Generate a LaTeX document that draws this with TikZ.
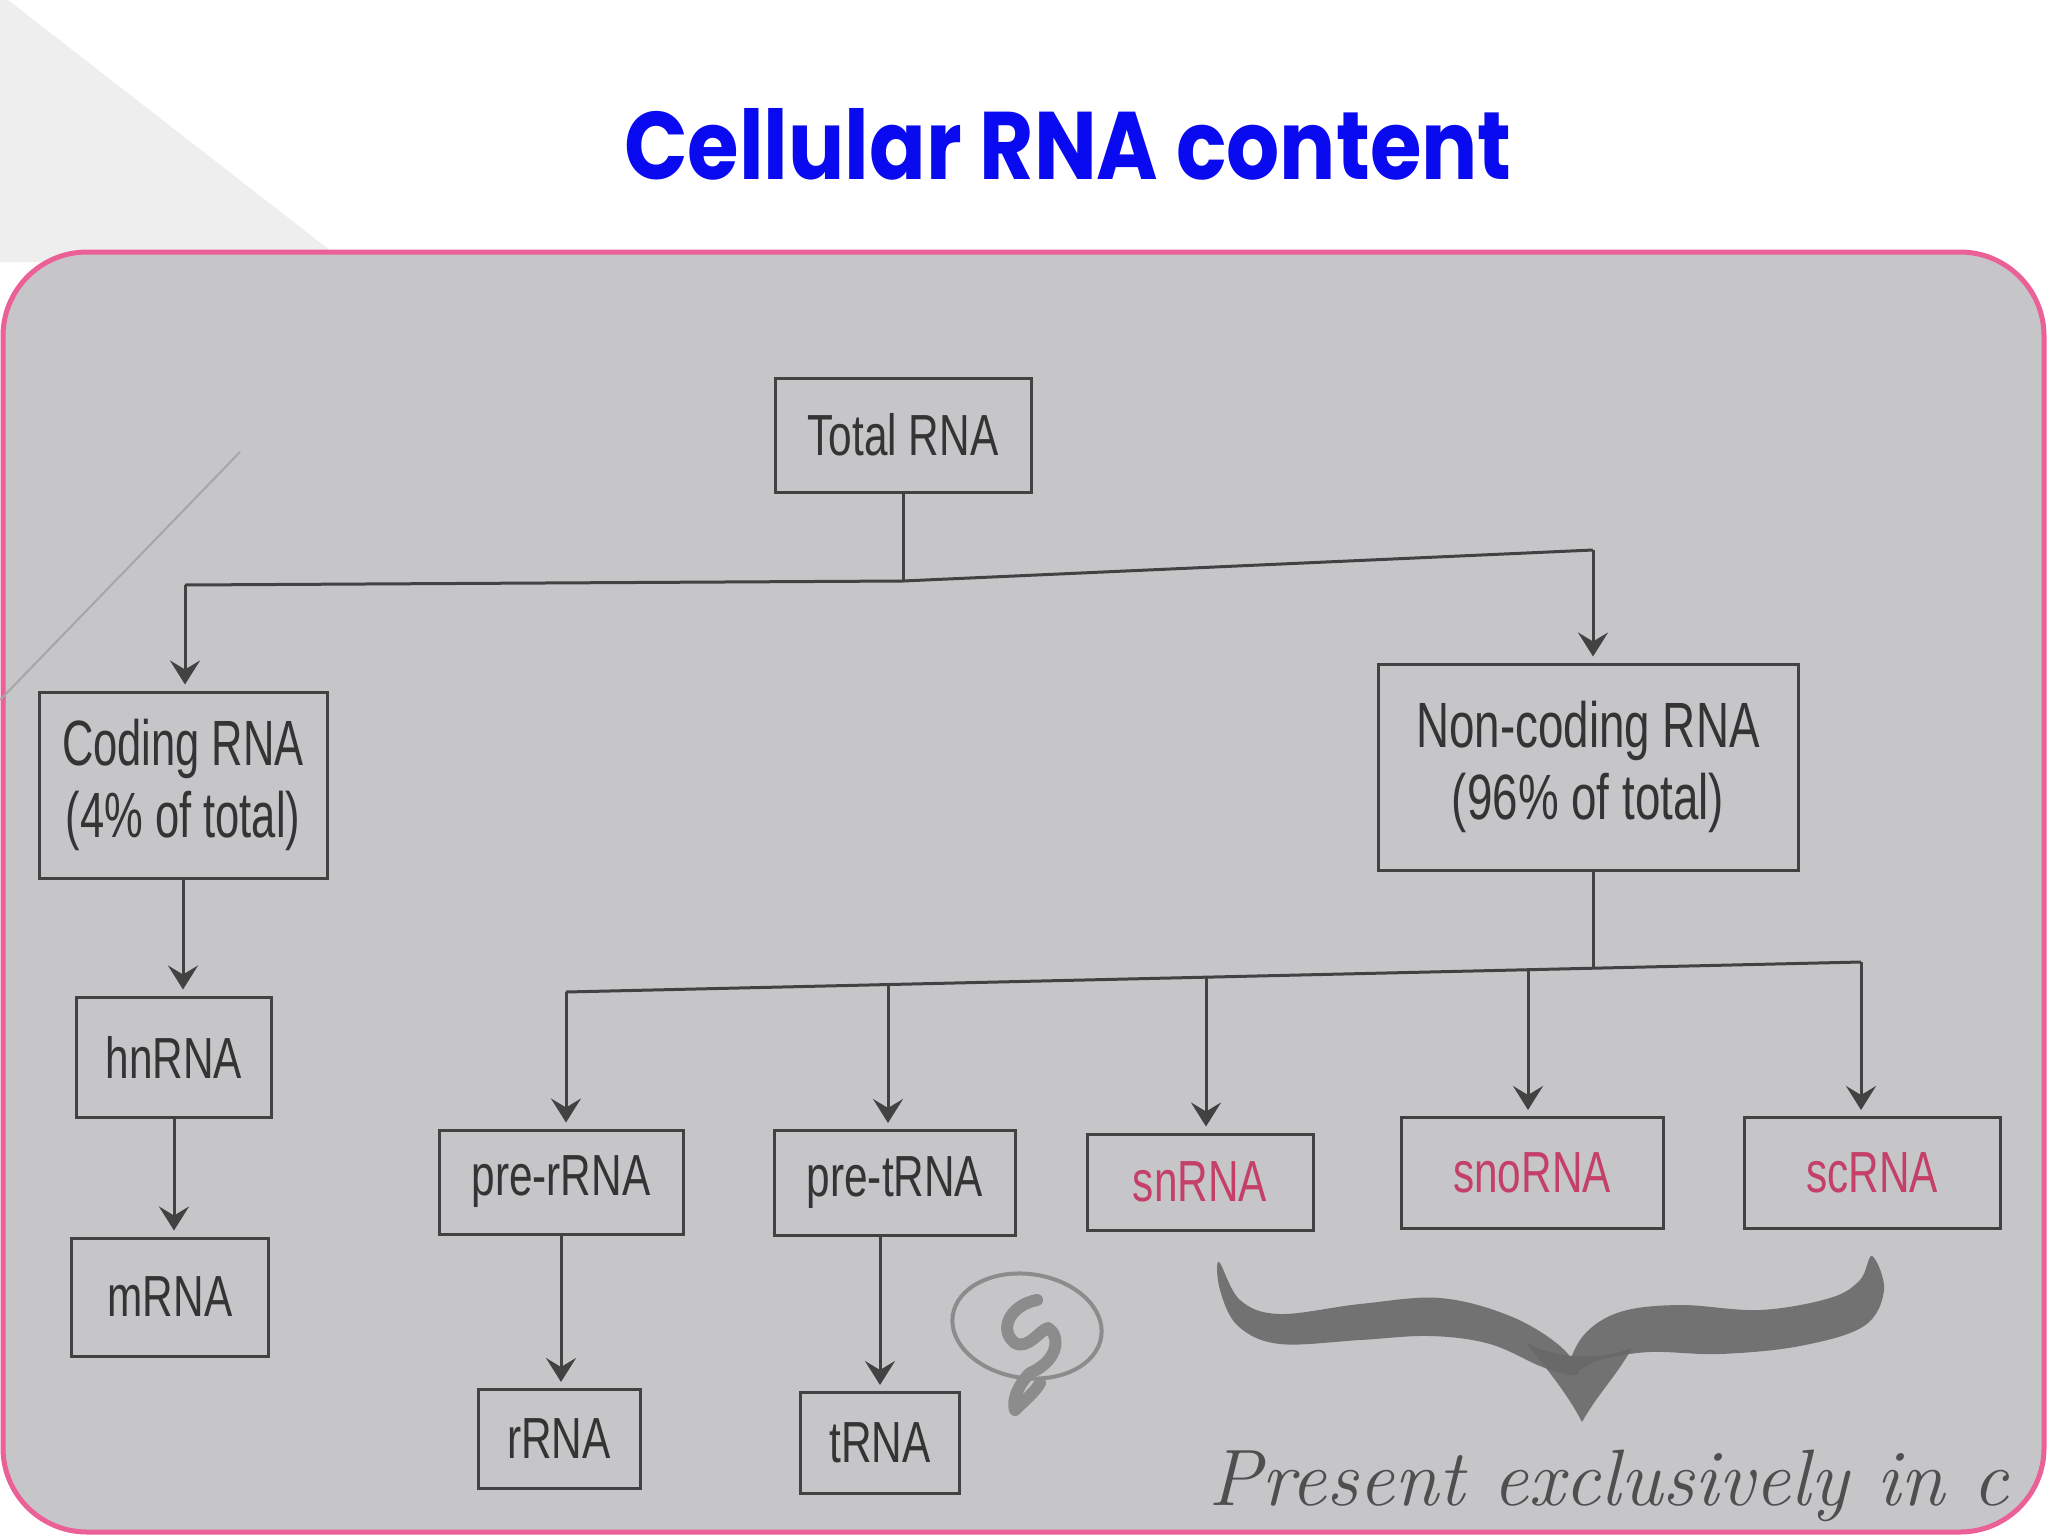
\documentclass[tikz,border=0pt]{standalone}
\usepackage{fontspec}
\usetikzlibrary{arrows.meta}
\newfontfamily\boxfont[FakeStretch=0.73]{Liberation Sans}
\newfontfamily\codingfont[FakeStretch=0.68]{Liberation Sans}
\newfontfamily\ncfont[FakeStretch=0.715]{Liberation Sans}
\newfontfamily\titlefont[FakeStretch=0.87]{Poppins}
\definecolor{titleblue}{RGB}{10,10,240}
\definecolor{paper}{RGB}{198,197,200}
\definecolor{framepink}{RGB}{236,96,152}
\definecolor{slidegray}{RGB}{238,238,238}
\definecolor{boxline}{RGB}{66,66,66}
\definecolor{inkgray}{RGB}{52,52,52}
\definecolor{inkred}{RGB}{196,64,104}
\definecolor{pencil}{RGB}{105,105,105}
\definecolor{doodlegray}{RGB}{140,140,140}
\tikzset{
  rnabox/.style={draw=boxline, line width=1.5pt, inner sep=0pt, align=center,
    text=inkgray, font=\boxfont\fontsize{29}{34}\selectfont},
  codebox/.style={rnabox, font=\codingfont\fontsize{32}{36}\selectfont},
  ncbox/.style={rnabox, font=\ncfont\fontsize{32}{36}\selectfont},
  redbox/.style={rnabox, text=inkred},
  conn/.style={draw=boxline, line width=1.5pt},
  arr/.style={conn, -{Stealth[length=12pt,width=15pt,inset=4.5pt]}, shorten >=3pt},
}
\begin{document}
\begin{tikzpicture}[x=0.5pt,y=-0.5pt]
\useasboundingbox (0,0) rectangle (2048,1536);
\fill[white] (0,0) rectangle (2048,1536);
\fill[slidegray] (0,0) -- (8,0) -- (345,262) -- (0,262) -- cycle;
% title
\node[anchor=base, text=titleblue, inner sep=0pt,
  font=\titlefont\bfseries\fontsize{48}{58}\selectfont] (title) at (1068,179) {Cellular RNA content};
% frame
\draw[framepink, line width=2.5pt, fill=paper, rounded corners=42pt] (3,252) rectangle (2044,1532);
\draw[doodlegray!55!paper, line width=1pt] (0,700) -- (240,452);
% boxes
\node[rnabox, minimum width=128pt, minimum height=57pt] (total) at (903,435) {Total RNA};
\node[codebox, minimum width=144pt, minimum height=93pt] (coding) at (183,785) {Coding RNA\\(4\% of total)};
\node[ncbox, minimum width=210pt, minimum height=103pt] (noncoding) at (1588,767) {Non-coding RNA\\(96\% of total)};
\node[rnabox, minimum width=97.5pt, minimum height=60pt] (hn) at (174,1057) {hnRNA};
\node[rnabox, minimum width=98.5pt, minimum height=59pt] (m) at (170,1297) {mRNA};
\node[rnabox, minimum width=122pt, minimum height=52pt] (prer) at (561,1182) {pre-rRNA};
\node[rnabox, minimum width=120.5pt, minimum height=52.5pt] (pret) at (895,1183) {pre-tRNA};
\node[redbox, minimum width=113pt, minimum height=48pt] (sn) at (1200,1182) {snRNA};
\node[redbox, minimum width=131pt, minimum height=55.5pt] (sno) at (1532,1173) {snoRNA};
\node[redbox, minimum width=128pt, minimum height=55.5pt] (sc) at (1872,1173) {scRNA};
\node[rnabox, minimum width=81pt, minimum height=49.5pt] (r) at (559,1439) {rRNA};
\node[rnabox, minimum width=79.5pt, minimum height=50.5pt] (t) at (880,1443) {tRNA};
% bus 1
\coordinate (b1L) at (185,585);
\coordinate (b1T) at (903,581);
\coordinate (b1R) at (1593,550);
\draw[conn] (total.south) -- (b1T);
\draw[conn] (b1L) -- (b1T) -- (b1R);
\draw[arr] (b1L) -- (b1L |- coding.north);
\draw[arr] (b1R) -- (b1R |- noncoding.north);
\draw[arr] (coding.south) -- (coding.south |- hn.north);
\draw[arr] (hn.south) -- (hn.south |- m.north);
% bus 2
\coordinate (b2J) at (1593,968);
\coordinate (d1) at (566,992);
\coordinate (d2) at (888,984.5);
\coordinate (d3) at (1206,977);
\coordinate (d4) at (1528,970);
\coordinate (d5) at (1861,962);
\draw[conn] (b2J |- noncoding.south) -- (b2J);
\draw[conn] (d1) -- (d5);
\draw[arr] (d1) -- (d1 |- prer.north);
\draw[arr] (d2) -- (d2 |- pret.north);
\draw[arr] (d3) -- (d3 |- sn.north);
\draw[arr] (d4) -- (d4 |- sno.north);
\draw[arr] (d5) -- (d5 |- sc.north);
\draw[arr] (prer.south) -- (prer.south |- r.north);
\draw[arr] (pret.south -| t.north) -- (t.north);
% doodle
\draw[doodlegray, line width=2pt, rotate around={-8:(1027,1326)}] (1027,1326) ellipse [x radius=37.5pt, y radius=26pt];
\draw[doodlegray, line width=6pt, line cap=round, line join=round]
  (1037,1300) .. controls (1010,1305) and (998,1330) .. (1015,1343)
  .. controls (1028,1350) and (1040,1330) .. (1048,1328)
  .. controls (1060,1335) and (1060,1360) .. (1030,1373)
  .. controls (1018,1385) and (1012,1400) .. (1015,1410)
  .. controls (1025,1400) and (1035,1392) .. (1040,1383);
% brace
\fill[pencil, opacity=0.9] plot[smooth cycle, tension=0.6] coordinates {
  (1219,1262) (1240,1300) (1280,1314) (1360,1304) (1440,1298) (1510,1316) (1560,1346)
  (1578,1374) (1545,1368) (1490,1344) (1430,1336) (1360,1340) (1280,1344) (1238,1326) (1220,1290)};
\fill[pencil, opacity=0.9] plot[smooth cycle, tension=0.6] coordinates {
  (1872,1256) (1884,1290) (1864,1326) (1800,1346) (1720,1354) (1650,1352) (1600,1360)
  (1568,1374) (1583,1336) (1620,1312) (1680,1305) (1760,1310) (1830,1298) (1860,1280)};
\fill[pencil, opacity=0.9] (1526,1343) .. controls (1560,1360) and (1600,1360) .. (1632,1348)
  .. controls (1617,1375) and (1597,1395) .. (1582,1422)
  .. controls (1568,1395) and (1548,1370) .. (1526,1343) -- cycle;
% handwriting
\begin{scope}
\clip[rounded corners=42pt] (3,252) rectangle (2044,1532);
\node[anchor=base west, inner sep=0pt, text=pencil!75!black,
  font=\itshape\fontsize{40}{46}\selectfont] (hand) at (1208,1505) {Present exclusively in c};
\end{scope}
\end{tikzpicture}
\end{document}
